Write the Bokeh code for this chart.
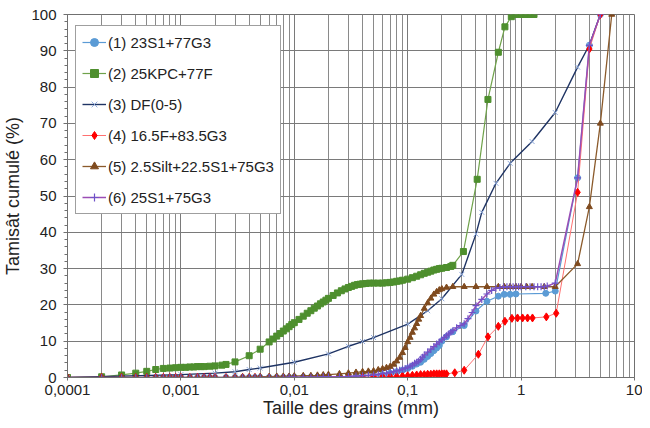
from bokeh.plotting import figure
from bokeh.models import (Range1d, FixedTicker, SingleIntervalTicker, CustomJSTickFormatter,
                          Legend, LegendItem)
from bokeh.embed import file_html
from bokeh.resources import INLINE

# ---------------- axis ticks ----------------
x_ticks = [0.0001, 0.001, 0.01, 0.1, 1, 10]
x_tick_labels = ["0,0001", "0,001", "0,01", "0,1", "1", "10"]

# ---------------- shared fine grid (laser) near zero ----------------
x_fine = [0.0001, 0.0002, 0.0003, 0.0004, 0.0005, 0.0006, 0.0007, 0.0008, 0.0009, 0.001,
          0.0012, 0.0014, 0.0016, 0.0018, 0.002, 0.0025, 0.003, 0.0035, 0.004, 0.0045,
          0.005, 0.006, 0.007, 0.008, 0.009, 0.01, 0.012, 0.014, 0.016, 0.018, 0.02,
          0.025, 0.03]

# (1) 23S1+77G3
s1_low = [0, 0, 0, 0, 0, 0, 0, 0, 0, 0, 0, 0, 0, 0, 0, 0, 0, 0, 0, 0,
          0, 0, 0, 0, 0, 0.1, 0.1, 0.1, 0.1, 0.1, 0.1, 0.2, 0.2]
s1_x_tail = [0.035, 0.04, 0.05, 0.06, 0.07, 0.08, 0.09, 0.1, 0.11, 0.12, 0.13, 0.14, 0.15,
             0.16, 0.17, 0.18, 0.19, 0.2, 0.22, 0.25, 0.315, 0.4, 0.5, 0.63, 0.71, 0.8, 0.9,
             1.65, 2.0, 3.15, 4.0, 5.0]
s1_y_tail = [0.3, 0.4, 0.5, 0.8, 1.2, 1.6, 2.0, 2.5, 3.1, 3.7, 4.2, 5.0, 5.8,
             6.6, 7.4, 8.1, 8.8, 10.0, 11.2, 12.6, 14.3, 18.3, 21.0, 22.4, 22.9, 22.9, 23.0,
             23.2, 23.8, 55.0, 91.5, 100.0]

# (2) 25KPC+77F
s2_x = [0.0001, 0.0002, 0.0003, 0.0004, 0.0005, 0.0006, 0.0007, 0.0008, 0.0009, 0.001,
        0.0011, 0.0012, 0.0013, 0.0014, 0.0015, 0.0016, 0.0018, 0.002, 0.0023, 0.0025,
        0.003, 0.004, 0.005, 0.006, 0.0065, 0.007, 0.0075, 0.008, 0.0085, 0.009, 0.0095,
        0.01, 0.011, 0.012, 0.013, 0.014, 0.015, 0.016, 0.017, 0.018, 0.019, 0.02, 0.022,
        0.024, 0.026, 0.028, 0.03, 0.032, 0.034, 0.036, 0.038, 0.04, 0.043, 0.046, 0.05,
        0.055, 0.06, 0.065, 0.07, 0.075, 0.08, 0.085, 0.09, 0.1, 0.11, 0.12, 0.13, 0.14,
        0.15, 0.16, 0.17, 0.18, 0.19, 0.2, 0.22, 0.24, 0.25, 0.31, 0.41, 0.51, 0.63, 0.72,
        0.82, 0.9, 1.0, 1.1, 1.2, 1.3]
s2_y = [0.0, 0.2, 0.7, 1.2, 1.7, 2.2, 2.5, 2.6, 2.7, 2.8,
        2.8, 2.9, 2.9, 3.0, 3.0, 3.0, 3.1, 3.2, 3.4, 3.6,
        4.3, 6.0, 7.8, 9.8, 10.6, 11.4, 12.1, 12.8, 13.4, 14.0, 14.6,
        15.1, 16.0, 16.9, 17.7, 18.4, 19.1, 19.7, 20.3, 20.8, 21.3, 21.8, 22.6,
        23.3, 23.9, 24.4, 24.8, 25.1, 25.4, 25.6, 25.7, 25.8, 25.9, 26.0, 26.0,
        26.0, 26.0, 26.1, 26.2, 26.3, 26.5, 26.6, 26.8, 27.1, 27.5, 27.9, 28.3, 28.7,
        29.0, 29.3, 29.6, 29.8, 30.0, 30.1, 30.3, 30.6, 30.9, 34.7, 54.6, 76.6, 89.6, 96.6,
        99.4, 100.0, 100.0, 100.0, 100.0, 100.0]

# (3) DF(0-5)
s3_x = [0.0001, 0.001, 0.002, 0.003, 0.004, 0.005, 0.01, 0.02, 0.03, 0.04, 0.05, 0.1,
        0.15, 0.2, 0.3, 0.4, 0.45, 0.6, 0.8, 1.25, 2.0, 3.15, 4.0, 5.0]
s3_y = [0.0, 0.8, 1.2, 1.6, 2.2, 2.6, 4.2, 6.5, 8.6, 9.9, 11.0, 14.7,
        18.4, 21.7, 28.4, 39.5, 45.5, 53.5, 59.0, 65.0, 73.0, 85.5, 91.6, 100.0]

# (4) 16.5F+83.5G3
s4_low = [0, 0, 0, 0, 0, 0, 0, 0, 0, 0, 0, 0, 0, 0, 0, 0, 0, 0, 0, 0,
          0, 0, 0, 0, 0, 0, 0, 0, 0, 0, 0.1, 0.1, 0.1]
s4_x_tail = [0.04, 0.05, 0.06, 0.07, 0.08, 0.09, 0.1, 0.11, 0.12, 0.13, 0.14, 0.15, 0.16,
             0.17, 0.18, 0.19, 0.2, 0.21, 0.22, 0.26, 0.315, 0.42, 0.51, 0.63, 0.72, 0.83,
             0.93, 1.03, 1.14, 1.26, 1.67, 2.04, 3.15, 4.0, 5.0]
s4_y_tail = [0.1, 0.2, 0.2, 0.3, 0.3, 0.4, 0.5, 0.6, 0.7, 0.8, 0.8, 0.9, 0.9,
             1.0, 1.0, 1.0, 1.0, 1.0, 1.0, 1.3, 2.0, 6.4, 11.2, 14.1, 15.5, 16.3,
             16.4, 16.4, 16.4, 16.4, 16.7, 17.7, 51.0, 90.5, 100.0]

# (5) 2.5Silt+22.5S1+75G3
s5_low = [0, 0, 0, 0, 0, 0, 0, 0, 0, 0, 0, 0, 0, 0, 0, 0, 0.1, 0.1, 0.1, 0.1,
          0.2, 0.2, 0.3, 0.3, 0.3, 0.4, 0.5, 0.5, 0.6, 0.7, 0.8, 1.0, 1.2]
s5_x_tail = [0.035, 0.04, 0.045, 0.05, 0.055, 0.06, 0.065, 0.07, 0.075, 0.08, 0.085, 0.09,
             0.095, 0.1, 0.105, 0.11, 0.115, 0.12, 0.125, 0.13, 0.14, 0.15, 0.16, 0.17,
             0.18, 0.19, 0.2, 0.22, 0.25, 0.315, 0.4, 0.5, 0.63, 0.71, 0.8, 0.9, 1.0, 1.12,
             1.25, 1.6, 2.0, 3.15, 4.0, 5.0, 6.3]
s5_y_tail = [1.4, 1.6, 1.7, 1.8, 2.1, 2.4, 2.7, 3.0, 3.6, 4.5, 5.5, 6.8,
             8.2, 9.8, 11.0, 12.4, 13.6, 14.8, 16.0, 17.0, 19.0, 20.5, 21.8, 22.9,
             23.6, 24.1, 24.4, 24.8, 25.0, 25.0, 25.0, 25.0, 25.0, 25.0, 25.0, 25.0, 25.0, 25.0,
             25.0, 25.0, 25.0, 31.3, 47.0, 70.0, 100.0]

# (6) 25S1+75G3
s6_low = [0, 0, 0, 0, 0, 0, 0, 0, 0, 0, 0, 0, 0, 0, 0, 0, 0, 0, 0, 0,
          0, 0, 0, 0, 0.1, 0.1, 0.1, 0.1, 0.1, 0.2, 0.2, 0.2, 0.3]
s6_x_tail = [0.035, 0.04, 0.045, 0.05, 0.055, 0.06, 0.065, 0.07, 0.075, 0.08, 0.085, 0.09,
             0.095, 0.1, 0.105, 0.11, 0.115, 0.12, 0.125, 0.13, 0.135, 0.14, 0.15, 0.16,
             0.17, 0.18, 0.19, 0.2, 0.21, 0.22, 0.23, 0.24, 0.25, 0.27, 0.29, 0.315, 0.34,
             0.37, 0.4, 0.45, 0.5, 0.55, 0.6, 0.65, 0.7, 0.75, 0.8, 0.85, 0.9, 0.95, 1.0,
             1.1, 1.2, 1.3, 1.4, 1.5, 1.6, 1.7, 2.0, 3.15, 4.0, 5.0]
s6_y_tail = [0.4, 0.5, 0.6, 0.7, 0.9, 1.1, 1.2, 1.4, 1.6, 1.8, 2.0, 2.3,
             2.5, 2.8, 3.1, 3.4, 3.9, 4.2, 4.5, 5.0, 5.6, 6.2, 7.0, 7.8,
             8.5, 9.2, 9.8, 10.4, 11.0, 11.5, 12.0, 12.5, 12.9, 13.7, 14.3, 14.8, 16.2,
             17.9, 19.8, 21.5, 23.0, 24.0, 24.6, 24.8, 24.9, 25.0, 25.0, 25.0, 25.0, 25.0, 25.0,
             25.0, 25.0, 25.0, 25.0, 25.0, 25.0, 25.2, 26.0, 55.0, 91.5, 100.0]

labels = ["(1) 23S1+77G3", "(2) 25KPC+77F", "(3) DF(0-5)", "(4) 16.5F+83.5G3",
          "(5) 2.5Silt+22.5S1+75G3", "(6) 25S1+75G3"]

FONT = "Liberation Sans"

p = figure(width=642, height=420, x_axis_type="log", output_backend="svg",
           toolbar_location=None, x_range=Range1d(0.0001, 10), y_range=Range1d(0, 100))
p.min_border_top = 14
p.min_border_right = 8
p.background_fill_color = "white"
p.outline_line_color = "#707070"

# axes
p.xaxis.ticker = FixedTicker(ticks=x_ticks,
                             minor_ticks=[m * t for t in x_ticks[:-1] for m in range(2, 10)])
p.xaxis.formatter = CustomJSTickFormatter(args=dict(t=x_ticks, l=x_tick_labels), code="""
let best = 0, bd = 1e9;
for (let i = 0; i < t.length; i++) {
  const d = Math.abs(Math.log10(tick) - Math.log10(t[i]));
  if (d < bd) { bd = d; best = i; }
}
return l[best];
""")
p.yaxis.ticker = SingleIntervalTicker(interval=10, num_minor_ticks=5)
p.xaxis.axis_label = "Taille des grains (mm)"
p.yaxis.axis_label = "Tamisât cumulé (%)"
for ax in (p.xaxis[0], p.yaxis[0]):
    ax.axis_label_text_font = FONT
    ax.axis_label_text_font_style = "normal"
    ax.axis_label_text_font_size = "18px"
    ax.axis_label_text_color = "#222222"
    ax.major_label_text_font = FONT
    ax.major_label_text_font_size = "15px"
    ax.major_label_text_color = "#222222"
    ax.axis_line_color = "#707070"
    ax.major_tick_line_color = "#707070"
    ax.minor_tick_line_color = "#707070"
    ax.major_tick_in = 0
    ax.minor_tick_in = 0
p.xaxis.major_tick_out = 3
p.xaxis.minor_tick_out = 0
p.xaxis.major_label_standoff = 4
p.xaxis.axis_label_standoff = 0
p.yaxis.major_tick_out = 4
p.yaxis.minor_tick_out = 3
p.yaxis.major_label_standoff = 7
p.yaxis.axis_label_standoff = 5

p.xgrid.grid_line_color = "#7a7a7a"
p.xgrid.minor_grid_line_color = "#8a8a8a"
p.ygrid.grid_line_color = "#7a7a7a"
p.ygrid.minor_grid_line_color = None

# series
s1_x = x_fine + s1_x_tail
s1_y = s1_low + s1_y_tail
s4_x = x_fine + s4_x_tail
s4_y = s4_low + s4_y_tail
s5_x = x_fine + s5_x_tail
s5_y = s5_low + s5_y_tail
s6_x = x_fine + s6_x_tail
s6_y = s6_low + s6_y_tail

items = []

l1 = p.line(s1_x, s1_y, line_color="#5B9BD5", line_width=1.2)
m1 = p.scatter(s1_x, s1_y, marker="circle", size=6, fill_color="#5B9BD5", line_color="#5B9BD5")
items.append(LegendItem(label=labels[0], renderers=[l1, m1]))

l2 = p.line(s2_x, s2_y, line_color="#6FA24A", line_width=1.2)
m2 = p.scatter(s2_x, s2_y, marker="square", size=6, fill_color="#4E8F2E", line_color="#4E8F2E")
items.append(LegendItem(label=labels[1], renderers=[l2, m2]))

l3 = p.line(s3_x, s3_y, line_color="#1F3464", line_width=1.4)
m3 = p.scatter(s3_x, s3_y, marker="x", size=7, line_color="#8FAADC", line_width=1)
items.append(LegendItem(label=labels[2], renderers=[l3, m3]))

l4 = p.line(s4_x, s4_y, line_color="#FF7070", line_width=1)
m4 = p.scatter(s4_x, s4_y, marker="diamond", size=8, fill_color="#FF0000", line_color="#FF0000")
items.append(LegendItem(label=labels[3], renderers=[l4, m4]))

l5 = p.line(s5_x, s5_y, line_color="#8B5A2B", line_width=1.3)
m5 = p.scatter(s5_x, s5_y, marker="triangle", size=6, fill_color="#7F4A1E", line_color="#7F4A1E")
items.append(LegendItem(label=labels[4], renderers=[l5, m5]))

l6 = p.line(s6_x, s6_y, line_color="#9B4DB5", line_width=1.5)
m6 = p.scatter(s6_x, s6_y, marker="cross", size=7, line_color="#6F52C8", line_width=1.2)
items.append(LegendItem(label=labels[5], renderers=[l6, m6]))

legend = Legend(items=items, location=(8, 163))
legend.label_text_font = FONT
legend.label_text_font_size = "15px"
legend.label_text_color = "#222222"
legend.border_line_color = "#404040"
legend.border_line_width = 1
legend.background_fill_alpha = 1
legend.padding = 6
legend.spacing = 11
legend.label_height = 20
legend.glyph_width = 24
legend.glyph_height = 20
legend.label_standoff = 2
legend.margin = 0
p.add_layout(legend, "center")

open("out.html", "w").write(file_html(p, INLINE))
